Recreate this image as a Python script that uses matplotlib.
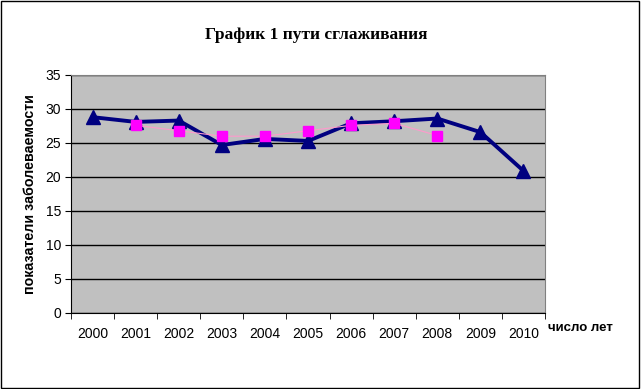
import matplotlib.pyplot as plt
import numpy as np

plt.rcParams["font.family"] = ["Liberation Sans", "DejaVu Sans"]

# data
years = ["2000", "2001", "2002", "2003", "2004", "2005",
         "2006", "2007", "2008", "2009", "2010"]
rates = [28.8, 28.1, 28.3, 24.7, 25.6, 25.3, 27.9, 28.2, 28.6, 26.6, 20.9]
smooth_years = ["2001", "2002", "2003", "2004", "2005", "2006", "2007", "2008"]
smooth = [27.6, 26.8, 26.0, 26.0, 26.8, 27.6, 27.9, 26.1]

fig = plt.figure(figsize=(6.41, 3.89), dpi=100)
ax = fig.add_axes([0.1108, 0.1954, 0.7395, 0.6118])
ax.set_facecolor("#C0C0C0")

x = np.arange(len(years))
xs = [years.index(y) for y in smooth_years]

ax.plot(x, rates, color="#000080", lw=2.8, marker="^", ms=10,
        markerfacecolor="#000080", markeredgecolor="#000080", zorder=3)
ax.plot(xs, smooth, color="#FF99CC", lw=0.8, marker="s", ms=7,
        markerfacecolor="#FF00FF", markeredgecolor="#FF00FF", zorder=4)

ax.set_xlim(-0.5, len(years) - 0.5)
ax.set_ylim(0, 35)
ax.set_yticks(np.arange(0, 36, 5))
ax.yaxis.grid(True, color="black", lw=1)
ax.set_axisbelow(True)

ax.set_xticks(x)
ax.set_xticklabels(years, fontsize=10)
ax.set_xticks(np.arange(-0.5, len(years)), minor=True)
ax.tick_params(axis="x", which="major", length=0, pad=10)
ax.tick_params(axis="x", which="minor", length=4, direction="out", color="black")
ax.tick_params(axis="y", labelsize=10, length=4, direction="out", pad=3)

for side in ["top", "right"]:
    ax.spines[side].set_color("#808080")
for side in ["left", "bottom"]:
    ax.spines[side].set_color("black")

ax.set_ylabel("показатели заболеваемости", fontsize=10.3, fontweight="bold",
              labelpad=6)
fig.text(0.855, 0.157, "число лет", fontsize=9.5, fontweight="bold",
         ha="left", va="center")
fig.text(0.493, 0.91, "График 1 пути сглаживания", fontsize=12.5,
         fontweight="bold", family=["Liberation Serif", "DejaVu Serif"],
         ha="center", va="center")

# border around the whole figure
fig.patches.append(plt.Rectangle((0.002, 0.003), 0.995, 0.994,
                                 transform=fig.transFigure, fill=False,
                                 edgecolor="black", lw=1))

fig.savefig("out.png", dpi=100)
